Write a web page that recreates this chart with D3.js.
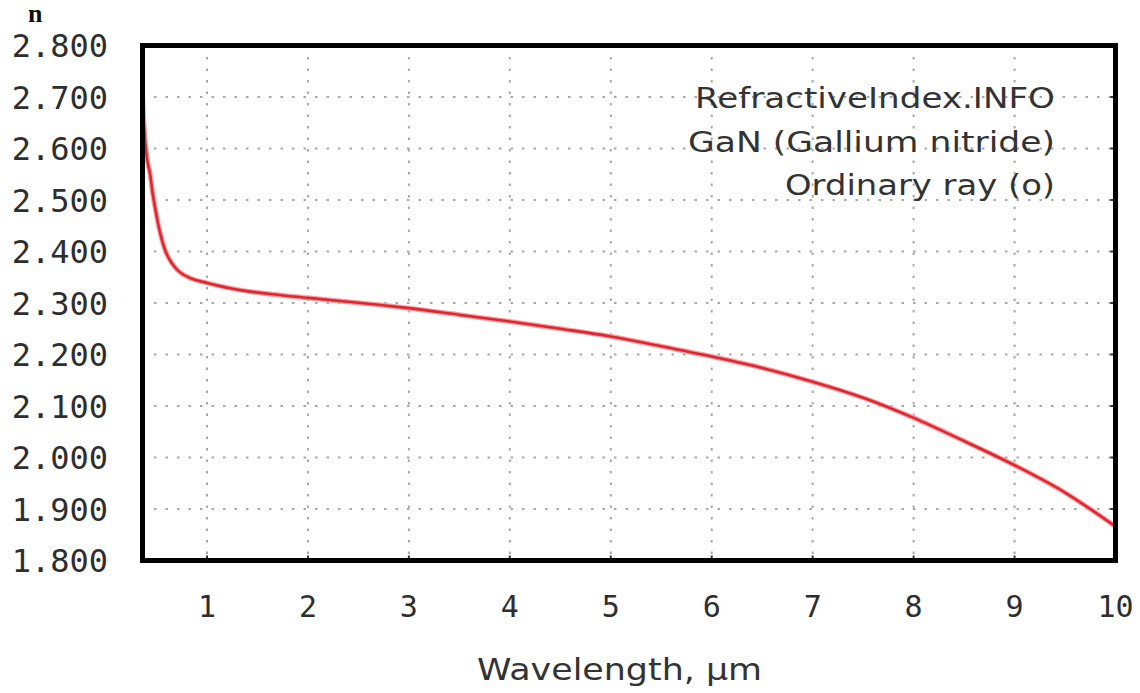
<!DOCTYPE html>
<html>
<head>
<meta charset="utf-8">
<script src="https://cdn.jsdelivr.net/npm/d3@7"></script>
<style>
  html, body { margin: 0; padding: 0; background: #fff; }
  svg { display: block; }
</style>
</head>
<body>
<svg id="chart" width="1140" height="693"></svg>
<script>
// GaN ordinary-ray refractive index vs wavelength (µm)
const wavelength = [0.362, 0.372, 0.385, 0.40, 0.415, 0.435, 0.46, 0.485, 0.52, 0.554, 0.59, 0.633, 0.68, 0.73,
  0.85, 1.0, 1.33, 1.6, 2.0, 2.42, 2.72, 3.0, 3.5, 4.0, 4.5, 5.0, 5.5,
  6.0, 6.5, 7.0, 7.5, 8.0, 8.5, 9.0, 9.5, 10.0];
const refractiveIndex = [2.700, 2.660, 2.620, 2.590, 2.570, 2.552, 2.515, 2.486, 2.450, 2.422, 2.400, 2.383, 2.370, 2.360,
  2.347, 2.339, 2.325, 2.318, 2.310, 2.302, 2.296, 2.290, 2.277, 2.264, 2.250, 2.235, 2.216,
  2.196, 2.174, 2.147, 2.116, 2.077, 2.032, 1.985, 1.932, 1.866];

const xTicks = [1, 2, 3, 4, 5, 6, 7, 8, 9, 10];
const yTicks = [1.8, 1.9, 2.0, 2.1, 2.2, 2.3, 2.4, 2.5, 2.6, 2.7, 2.8];
const infoLines = ["RefractiveIndex.INFO", "GaN (Gallium nitride)", "Ordinary ray (o)"];
const infoWidths = [360, 367, 270];

const svg = d3.select("#chart");
const plot = { left: 142.5, right: 1115.5, top: 45.5, bottom: 560.5 };

const x = d3.scaleLinear().domain([0.361, 10]).range([plot.left, plot.right]);
const y = d3.scaleLinear().domain([1.8, 2.8]).range([plot.bottom, plot.top]);

// dotted grid
const grid = svg.append("g").attr("stroke", "#a8a8a8").attr("stroke-width", 2)
  .attr("stroke-dasharray", "2.5,9").attr("fill", "none");
grid.selectAll("line.v").data(xTicks.filter(d => d < 10)).join("line").attr("class", "v")
  .attr("x1", d => x(d)).attr("x2", d => x(d)).attr("y1", plot.top).attr("y2", plot.bottom);
grid.selectAll("line.h").data(yTicks.filter(d => d > 1.85 && d < 2.75)).join("line").attr("class", "h")
  .attr("y1", d => y(d)).attr("y2", d => y(d)).attr("x1", plot.left).attr("x2", plot.right);

// short inner tick marks
const ticks = svg.append("g").attr("stroke", "#333").attr("stroke-width", 2);
ticks.selectAll("line.b").data(xTicks.filter(d => d < 10)).join("line").attr("class", "b")
  .attr("x1", d => x(d)).attr("x2", d => x(d)).attr("y1", plot.bottom).attr("y2", plot.bottom - 5);
ticks.selectAll("line.r").data(yTicks.filter(d => d > 1.85 && d < 2.75)).join("line").attr("class", "r")
  .attr("y1", d => y(d)).attr("y2", d => y(d)).attr("x1", plot.right).attr("x2", plot.right - 5);

// curve
const line = d3.line().x((d, i) => x(wavelength[i])).y(d => y(d)).curve(d3.curveMonotoneX);
svg.append("path").datum(refractiveIndex)
  .attr("d", line).attr("fill", "none")
  .attr("stroke", "#f7a0a4").attr("stroke-width", 5).attr("stroke-linejoin", "round");
svg.append("path").datum(refractiveIndex)
  .attr("d", line).attr("fill", "none")
  .attr("stroke", "#e0262f").attr("stroke-width", 2.6).attr("stroke-linejoin", "round");

// frame
svg.append("rect").attr("x", plot.left).attr("y", plot.top)
  .attr("width", plot.right - plot.left).attr("height", plot.bottom - plot.top)
  .attr("fill", "none").attr("stroke", "#000").attr("stroke-width", 5);

// y tick labels
svg.append("g").selectAll("text").data(yTicks).join("text")
  .attr("x", 108).attr("y", d => y(d)).attr("dy", "0.36em")
  .attr("text-anchor", "end")
  .attr("font-family", "DejaVu Sans Mono").attr("font-size", 32)
  .attr("fill", "#2e2e2e")
  .text(d => d3.format(".3f")(d));

// x tick labels
svg.append("g").selectAll("text").data(xTicks).join("text")
  .attr("x", d => x(d)).attr("y", 617)
  .attr("text-anchor", "middle")
  .attr("font-family", "DejaVu Sans Mono").attr("font-size", 30)
  .attr("fill", "#2e2e2e")
  .text(d => d);

// axis titles
svg.append("text").attr("x", 28).attr("y", 22)
  .attr("font-family", "Liberation Serif").attr("font-weight", "bold")
  .attr("font-size", 26).attr("fill", "#111").text("n");

svg.append("text").attr("x", 477).attr("y", 680)
  .attr("font-family", "DejaVu Sans").attr("font-size", 31)
  .attr("fill", "#333")
  .attr("textLength", 285).attr("lengthAdjust", "spacingAndGlyphs")
  .text("Wavelength, µm");

// info block
svg.append("g").selectAll("text").data(infoLines).join("text")
  .attr("x", (d, i) => 1055 - infoWidths[i]).attr("y", (d, i) => 108 + i * 43.5)
  .attr("font-family", "DejaVu Sans").attr("font-size", 27.5)
  .attr("fill", "#333")
  .attr("textLength", (d, i) => infoWidths[i]).attr("lengthAdjust", "spacingAndGlyphs")
  .text(d => d);
</script>
</body>
</html>
